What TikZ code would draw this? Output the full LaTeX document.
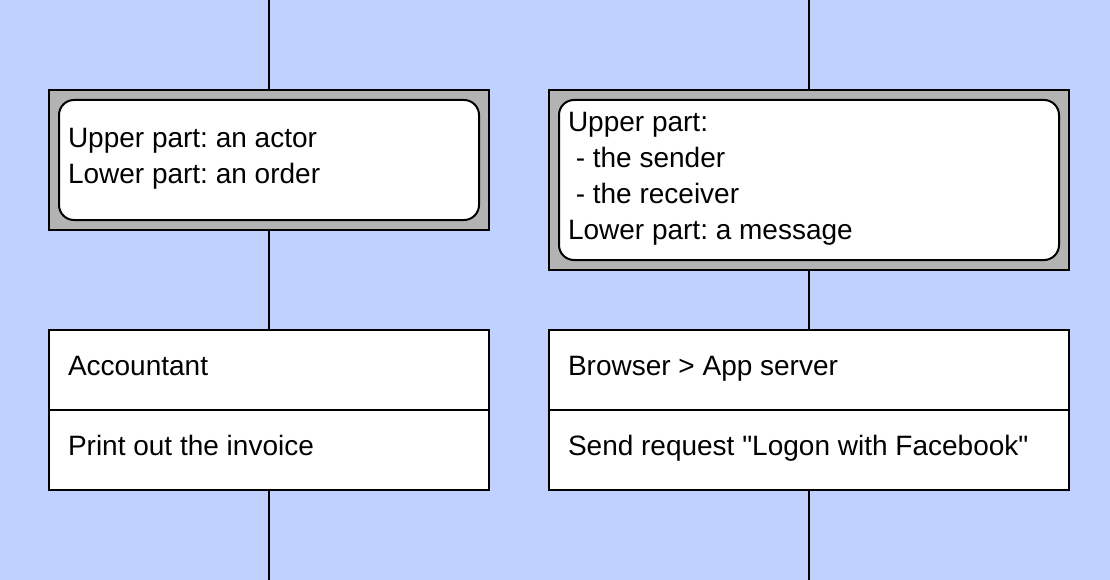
\documentclass[tikz,border=0pt]{standalone}
\usepackage{fontspec}
\setmainfont{Liberation Sans}
\frenchspacing
\begin{document}
\begin{tikzpicture}[x=1pt,y=-1pt,
  every node/.style={inner sep=0pt, outer sep=0pt},
  txt/.style={font=\fontsize{28}{36}\selectfont, align=left, anchor=west, text=black},
  btxt/.style={font=\fontsize{28}{36}\selectfont, anchor=base west, text=black},
  outerbox/.style={draw=black, line width=2pt, fill=boxgrey},
  innerbox/.style={draw=black, line width=2pt, fill=white, rounded corners=15pt},
  plainbox/.style={draw=black, line width=2pt, fill=white},
  conn/.style={draw=black, line width=1.6pt}]
\definecolor{bg}{RGB}{192,208,255}
\definecolor{boxgrey}{RGB}{179,179,179}
\fill[bg] (0,0) rectangle (1110,580);
\useasboundingbox (0,0) rectangle (1110,580);
% left column
\node[outerbox, minimum width=440pt, minimum height=140pt] (lg) at (269,160) {};
\node[innerbox, minimum width=420pt, minimum height=120pt] (li) at (269,160) {};
\node[txt] (lt) at (68,159) {Upper part: an actor\\Lower part: an order};
\node[plainbox, minimum width=440pt, minimum height=80pt] (la) at (269,370) {};
\node[plainbox, minimum width=440pt, minimum height=80pt] (lb) at (269,450) {};
\node[btxt] (lat) at (68,375) {Accountant};
\node[btxt] (lbt) at (68,455) {Print out the invoice};
\coordinate (ltop) at (269,0);
\coordinate (lbot) at (269,580);
\draw[conn] (ltop) -- (lg.north);
\draw[conn] (lg.south) -- (la.north);
\draw[conn] (lb.south) -- (lbot);
% right column
\node[outerbox, minimum width=520pt, minimum height=180pt] (rg) at (809,180) {};
\node[innerbox, minimum width=500pt, minimum height=160pt] (ri) at (809,180) {};
\node[txt] (rt) at (568,179) {Upper part:\\\ - the sender\\\ - the receiver\\Lower part: a message};
\node[plainbox, minimum width=520pt, minimum height=80pt] (ra) at (809,370) {};
\node[plainbox, minimum width=520pt, minimum height=80pt] (rb) at (809,450) {};
\node[btxt] (rat) at (568,375) {Browser > App server};
\node[btxt] (rbt) at (568,455) {Send request \textquotedbl Logon with Facebook\textquotedbl};
\coordinate (rtop) at (809,0);
\coordinate (rbot) at (809,580);
\draw[conn] (rtop) -- (rg.north);
\draw[conn] (rg.south) -- (ra.north);
\draw[conn] (rb.south) -- (rbot);
\end{tikzpicture}
\end{document}
